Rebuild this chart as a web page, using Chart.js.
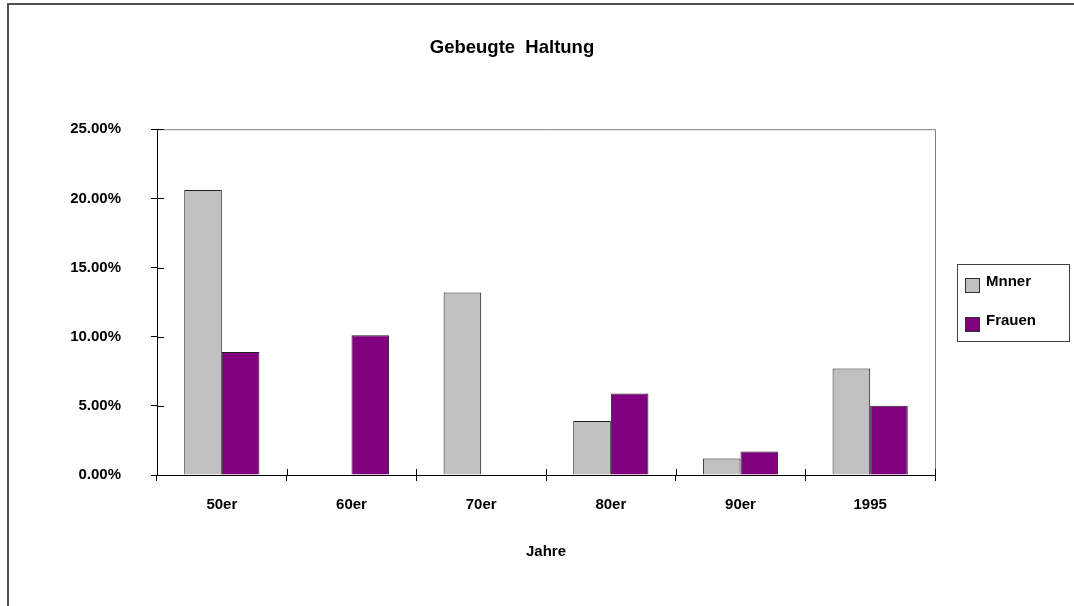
<!DOCTYPE html>
<html>
<head>
<meta charset="utf-8">
<script src="https://cdn.jsdelivr.net/npm/chart.js@4/dist/chart.umd.min.js"></script>
<style>
  body { margin: 0; background: #fff; }
  #wrap { position: relative; width: 1074px; height: 606px; overflow: hidden; }
  #frame { position: absolute; left: 7px; top: 3px; width: 1200px; height: 800px;
           border-top: 2px solid #505050; border-left: 2px solid #505050; }
  #Charts { position: absolute; left: 0; top: 0; }
</style>
</head>
<body>
<div id="wrap">
  <div id="frame"></div>
  <canvas id="Charts" width="1074" height="606"></canvas>
</div>
<script>
// Jahrzehnte und Anteile (in Prozent)
var jahre = ['50er', '60er', '70er', '80er', '90er', '1995'];
var maenner = [20.6, 0, 13.2, 3.9, 1.2, 7.7];
var frauen = [8.9, 10.1, 0, 5.9, 1.7, 5.0];
var serien = ['Mnner', 'Frauen'];
var farben = ['#c0c0c0', '#800080'];

var schrift = 'Liberation Sans, Arial, Helvetica, sans-serif';

// grauer Rahmen oben/rechts, Striche nach innen, Legende mit Kasten
var extras = {
    id: 'extras',
    afterLayout: function(chart){
        // Beschriftung der y-Achse nicht am linken Rand abschneiden
        chart.scales.y.left = 0;
    },
    afterDraw: function(chart){
        var ctx = chart.ctx;
        var a = chart.chartArea;
        ctx.save();
        ctx.lineWidth = 1;
        ctx.strokeStyle = '#808080';
        ctx.beginPath();
        ctx.moveTo(a.left, a.top + 0.5);
        ctx.lineTo(a.right + 0.5, a.top + 0.5);
        ctx.lineTo(a.right + 0.5, a.bottom);
        ctx.stroke();

        // kurze Striche auf der Innenseite der Achsen
        ctx.strokeStyle = '#000';
        ctx.beginPath();
        var ys = chart.scales.y;
        ys.ticks.forEach(function(t){
            var py = Math.round(ys.getPixelForValue(t.value)) + 0.5;
            ctx.moveTo(a.left, py);
            ctx.lineTo(a.left + 7, py);
        });
        var xs = chart.scales.x;
        for (var i = 0; i <= jahre.length; i++) {
            var px = Math.round(xs.getPixelForValue(i - 0.5)) + 0.5;
            ctx.moveTo(px, a.bottom);
            ctx.lineTo(px, a.bottom - 6);
        }
        ctx.stroke();

        // Legende
        var lx = a.right + 22;
        var lh = 77;
        var ly = Math.round((a.top + a.bottom) / 2 - lh / 2);
        ctx.strokeStyle = '#404040';
        ctx.strokeRect(lx + 0.5, ly + 0.5, 112, lh);
        ctx.font = 'bold 15px ' + schrift;
        ctx.textBaseline = 'middle';
        ctx.textAlign = 'left';
        chart.data.datasets.forEach(function(ds, k){
            var by = ly + 14 + k * 39;
            ctx.fillStyle = ds.backgroundColor;
            ctx.fillRect(lx + 8, by, 14, 14);
            ctx.strokeStyle = '#303030';
            ctx.strokeRect(lx + 8.5, by + 0.5, 14, 14);
            ctx.fillStyle = '#000';
            ctx.fillText(ds.label, lx + 29, by + 4);
        });
        ctx.restore();
    }
};

var ctx = document.getElementById('Charts').getContext('2d');
var myChart = new Chart(ctx, {
    type: 'bar',
    data: {
        labels: jahre,
        datasets: [
            { label: serien[0], data: maenner, backgroundColor: farben[0], borderColor: '#202020', borderWidth: 1 },
            { label: serien[1], data: frauen, backgroundColor: farben[1], borderColor: '#202020', borderWidth: 1 }
        ]
    },
    options: {
        responsive: false,
        animation: false,
        layout: { padding: { left: 89, right: 139, top: 0, bottom: 45 } },
        datasets: { bar: { categoryPercentage: 0.58, barPercentage: 1 } },
        plugins: {
            legend: { display: false },
            tooltip: { enabled: false },
            title: {
                display: true,
                text: 'Gebeugte  Haltung',
                color: '#000',
                font: { family: schrift, size: 18.5, weight: 'bold' },
                padding: { top: 37, bottom: 70 }
            }
        },
        scales: {
            x: {
                grid: { display: true, drawOnChartArea: false, offset: true, tickLength: 6, color: '#000' },
                border: { color: '#000' },
                ticks: { color: '#000', padding: 15, font: { family: schrift, size: 15, weight: 'bold' } },
                title: { display: true, text: 'Jahre', color: '#000', padding: { top: 14, bottom: 0 },
                         font: { family: schrift, size: 15, weight: 'bold' } }
            },
            y: {
                min: 0,
                max: 25,
                afterFit: function(axis){ axis.width = 68; },
                grid: { drawOnChartArea: false, tickLength: 6, color: '#000' },
                border: { color: '#000' },
                ticks: {
                    stepSize: 5,
                    padding: 30,
                    color: '#000',
                    font: { family: schrift, size: 15, weight: 'bold' },
                    callback: function(v){ return v.toFixed(2) + '%'; }
                }
            }
        }
    },
    plugins: [extras]
});
</script>
</body>
</html>
